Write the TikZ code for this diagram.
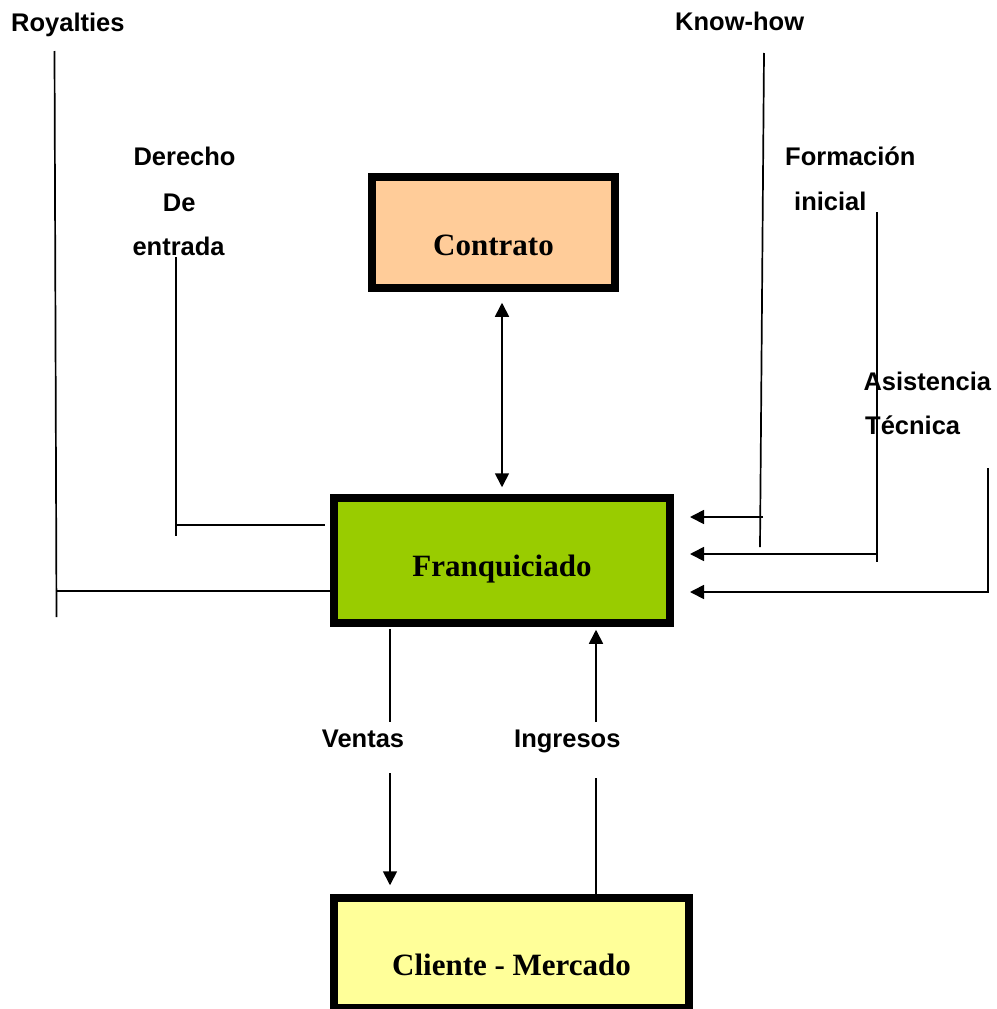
\documentclass[tikz,border=0pt]{standalone}
\usepackage{fontspec}
\setmainfont{Liberation Serif}
\newfontfamily\labfont{Liberation Sans}
\usetikzlibrary{arrows.meta}
\definecolor{cContrato}{HTML}{FFCC99}
\definecolor{cFranq}{HTML}{99CC00}
\definecolor{cCliente}{HTML}{FFFF99}
\begin{document}
\begin{tikzpicture}[x=1pt,y=-1pt,
  box/.style={draw=black, line width=7.5pt, inner sep=0pt, font=\fontsize{31}{36}\selectfont\bfseries, text depth=0pt},
  lab/.style={inner sep=0pt, anchor=base west, font=\labfont\fontsize{25.5}{30}\selectfont\bfseries},
  ln/.style={line width=1.7pt},
  arr/.style={ln, -{Triangle[length=14pt,width=14pt]}},
  dbl/.style={ln, {Triangle[length=14pt,width=14pt]}-{Triangle[length=14pt,width=14pt]}}]
\useasboundingbox (0,0) rectangle (996,1009);

% boxes
\node[box, fill=cContrato, minimum width=243pt, minimum height=111pt, text height=45pt] (contrato) at (493.5,232.5) {Contrato};
\node[box, fill=cFranq, minimum width=336pt, minimum height=125pt, text height=32.4pt] (franq) at (502,560.5) {Franquiciado};
\node[box, fill=cCliente, minimum width=355pt, minimum height=110pt, text height=44pt] (cliente) at (511.5,953) {Cliente - Mercado};

% labels
\node[lab] (roy) at (11,31.7) {Royalties};
\node[lab] (know) at (675,30.7) {Know-how};
\node[lab] (der1) at (133.3,165.7) {Derecho};
\node[lab] (der2) at (162.7,211.7) {De};
\node[lab] (der3) at (132.3,255) {entrada};
\node[lab] (for1) at (785,165.7) {Formación};
\node[lab] (for2) at (794,210.7) {inicial};
\node[lab] (asi1) at (863.3,390) {Asistencia};
\node[lab] (asi2) at (865,434) {Técnica};
\node[lab] (ventas) at (321.7,747.3) {Ventas};
\node[lab] (ingresos) at (514,747.3) {Ingresos};

% coordinates
\coordinate (rT) at (54.5,51);
\coordinate (rB) at (56.5,617);
\coordinate (rJ) at (55.5,591);
\coordinate (dT) at (176,257);
\coordinate (dB) at (176,536);
\coordinate (dJ) at (176,525);
\coordinate (kT) at (764,53);
\coordinate (kB) at (760,547);
\coordinate (kJ) at (763,517);
\coordinate (fT) at (877,212);
\coordinate (fB) at (877,562);
\coordinate (fJ) at (877,554);
\coordinate (aT) at (988,468);
\coordinate (aJ) at (988,592);
\coordinate (v1) at (390,722);
\coordinate (v2) at (390,773);
\coordinate (i1) at (596,722);
\coordinate (i2) at (596,778);

% contrato <-> franquiciado
\draw[dbl, shorten <=11pt, shorten >=7pt] (contrato.south -| franq.north) -- (franq.north);

% left side
\draw[ln] (rT) -- (rB);
\draw[ln] (rJ) -- (rJ -| franq.west);
\draw[ln] (dT) -- (dB);
\draw[ln, shorten >=5pt] (dJ) -- (dJ -| franq.west);

% right side
\draw[ln] (kT) -- (kB);
\draw[arr, shorten >=16.25pt] (kJ) -- (kJ -| franq.east);
\draw[ln] (fT) -- (fB);
\draw[arr, shorten >=16.25pt] (fJ) -- (fJ -| franq.east);
\draw[arr, shorten >=16.25pt] (aT) -- (aJ) -- (aJ -| franq.east);

% bottom
\draw[ln, shorten <=2pt] (franq.south -| v1) -- (v1);
\draw[arr, shorten >=9pt] (v2) -- (cliente.north -| v2);
\draw[arr, shorten >=3pt] (i1) -- (franq.south -| i1);
\draw[ln] (i2) -- (cliente.north -| i2);
\end{tikzpicture}
\end{document}
